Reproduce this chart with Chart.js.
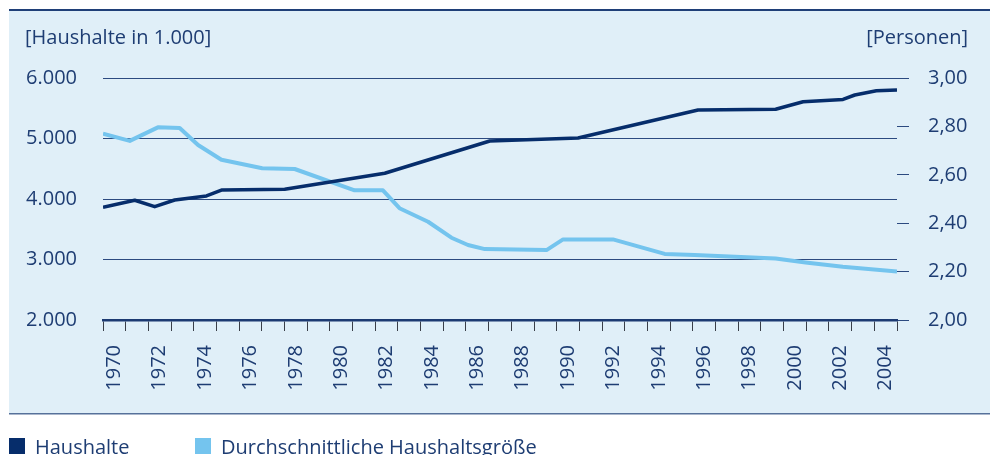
<!DOCTYPE html>
<html>
<head>
<meta charset="utf-8">
<script src="https://cdn.jsdelivr.net/npm/chart.js@4/dist/chart.umd.min.js"></script>
<style>
html,body{margin:0;padding:0;background:#fff;}
#wrap{position:relative;width:990px;height:455px;overflow:hidden;}
canvas{display:block;}
</style>
</head>
<body>
<div id="wrap"><canvas id="c" width="990" height="455"></canvas></div>
<script>
// ---- data ----
const yearLabels = ['1970','1971','1972','1973','1974','1975','1976','1977','1978','1979',
  '1980','1981','1982','1983','1984','1985','1986','1987','1988','1989',
  '1990','1991','1992','1993','1994','1995','1996','1997','1998','1999',
  '2000','2001','2002','2003','2004'];

// Haushalte (in 1.000) – position on the time axis (years) and value
const haushalteX = [1970, 1971.40, 1972.28, 1973.16, 1974.56, 1975.25, 1978.01, 1982.42, 1987.05, 1990.94, 1996.23, 1999.65, 2000.86, 2002.62, 2003.14, 2004.09, 2005];
const haushalteY = [3863, 3979, 3873, 3983, 4050, 4149, 4160, 4425, 4959, 5008, 5471, 5483, 5608, 5645, 5719, 5788, 5802];

// Durchschnittliche Haushaltsgröße (Personen)
const groesseX = [1970, 1971.18, 1972.42, 1973.38, 1974.19, 1975.22, 1977.02, 1978.45, 1981.09, 1982.34, 1983.07, 1984.33, 1985.36, 1986.09, 1986.83, 1989.55, 1990.28, 1992.48, 1994.76, 1996.08, 1999.65, 2000.97, 2002.61, 2005];
const groesseY = [2.770, 2.740, 2.796, 2.793, 2.723, 2.662, 2.627, 2.624, 2.536, 2.536, 2.462, 2.406, 2.340, 2.310, 2.293, 2.289, 2.333, 2.333, 2.273, 2.269, 2.254, 2.238, 2.220, 2.200];

const leftTitle = '[Haushalte in 1.000]';
const rightTitle = '[Personen]';
const seriesNames = ['Haushalte', 'Durchschnittliche Haushaltsgröße'];
const seriesColors = ['#062d6b', '#74c4ee'];

// ---- chart ----
const FONT = 'Open Sans';
const TXT = '#1e3d73';
Chart.defaults.font.family = FONT;
Chart.defaults.font.size = 20;
Chart.defaults.color = TXT;

const deco = {
  id: 'deco',
  beforeDraw(chart) {
    const c = chart.ctx;
    c.save();
    c.fillStyle = '#ffffff';
    c.fillRect(0, 0, chart.width, chart.height);
    c.fillStyle = '#e0eff8';
    c.fillRect(9, 10, 981, 404);
    c.fillStyle = '#1f3f78';
    c.fillRect(9, 9, 981, 2);
    c.fillStyle = '#56719a';
    c.fillRect(9, 413, 981, 1.5);
    c.restore();
  },
  afterDraw(chart) {
    const c = chart.ctx;
    c.save();
    c.font = '20px "' + FONT + '"';
    c.fillStyle = TXT;
    c.textBaseline = 'alphabetic';
    c.textAlign = 'left';
    c.fillText(leftTitle, 25, 44);
    c.textAlign = 'right';
    c.fillText(rightTitle, 968, 44);
    // legend
    c.textAlign = 'left';
    c.fillStyle = seriesColors[0];
    c.fillRect(9, 438, 16, 16);
    c.fillStyle = TXT;
    c.fillText(seriesNames[0], 35, 454);
    c.fillStyle = seriesColors[1];
    c.fillRect(195, 438, 16, 16);
    c.fillStyle = TXT;
    c.fillText(seriesNames[1], 221, 454);
    c.restore();
  }
};

new Chart(document.getElementById('c'), {
  type: 'line',
  data: {
    datasets: [
      {
        label: seriesNames[0],
        data: haushalteX.map((x, i) => ({ x: x, y: haushalteY[i] })),
        xAxisID: 'xl', yAxisID: 'y',
        borderColor: seriesColors[0], borderWidth: 3.5,
        pointRadius: 0, tension: 0, borderJoinStyle: 'round', fill: false
      },
      {
        label: seriesNames[1],
        data: groesseX.map((x, i) => ({ x: x, y: groesseY[i] })),
        xAxisID: 'xl', yAxisID: 'y1',
        borderColor: seriesColors[1], borderWidth: 4,
        pointRadius: 0, tension: 0, borderJoinStyle: 'round', fill: false
      }
    ]
  },
  options: {
    responsive: false,
    animation: false,
    layout: { padding: { top: 78, bottom: 0, left: 0, right: 0 } },
    plugins: { legend: { display: false }, tooltip: { enabled: false } },
    scales: {
      x: {
        type: 'category', labels: yearLabels, offset: true, position: 'bottom',
        grid: { offset: true, drawOnChartArea: false, drawTicks: true, tickLength: 11, color: '#3a3f48', lineWidth: 1 },
        border: { display: true, color: '#1c3a72', width: 2.5 },
        ticks: { autoSkip: false, maxRotation: 90, minRotation: 90, padding: 14, color: TXT, font: { size: 20 },
          callback: (v, i) => (i % 2 === 0 ? yearLabels[i] : '') },
        afterFit: s => { s.height = 135; }
      },
      xl: { type: 'linear', min: 1970, max: 2005, display: false },
      y: {
        position: 'left', min: 2000, max: 6000,
        ticks: { stepSize: 1000, padding: 26, color: TXT,
          callback: v => v.toLocaleString('de-DE') },
        grid: { drawTicks: false, color: '#2c4a80', lineWidth: 1 },
        border: { display: false },
        afterFit: s => { s.width = 103; }
      },
      y1: {
        position: 'right', min: 2, max: 3,
        ticks: { stepSize: 0.2, padding: 19, color: TXT,
          callback: v => v.toFixed(2).replace('.', ',') },
        grid: { drawOnChartArea: false, drawTicks: true, tickLength: 12, color: '#2c4a80', lineWidth: 1 },
        border: { display: false },
        afterFit: s => { s.width = 93; }
      }
    }
  },
  plugins: [deco]
});
</script>
</body>
</html>
